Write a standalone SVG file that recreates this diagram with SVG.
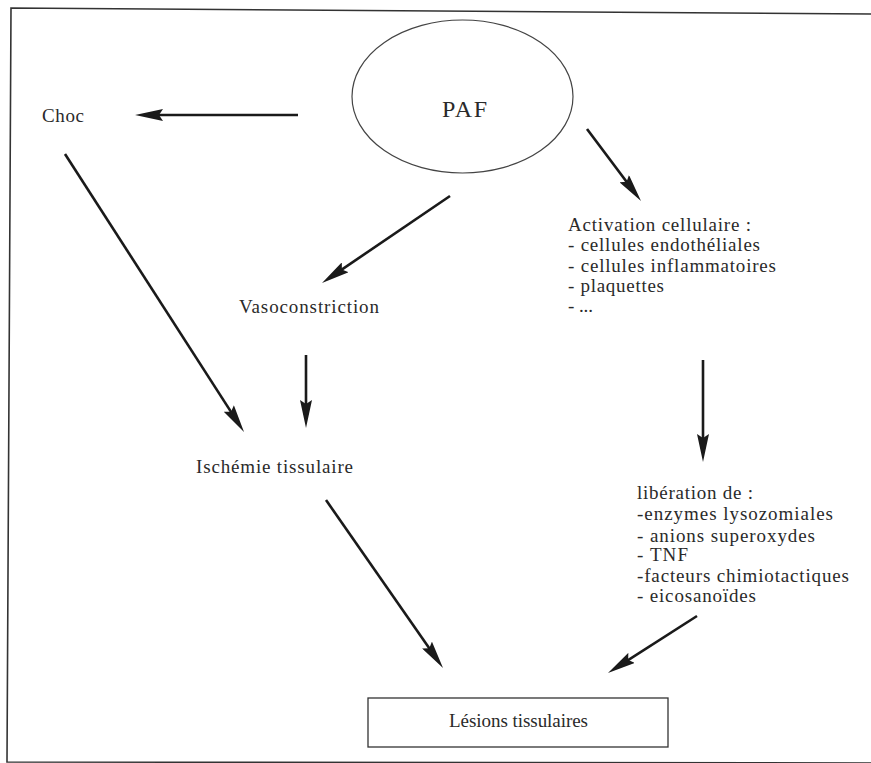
<svg xmlns="http://www.w3.org/2000/svg" width="871" height="763" viewBox="0 0 871 763">
<style>
.t{font-family:"Liberation Serif","Times New Roman",serif;font-size:19px;fill:#2a2a2a;}
.big{font-size:24px;}
.c line{stroke:#1a1a1a;stroke-width:2.6;stroke-linecap:butt;marker-end:url(#ah);}
</style>
<defs>
<marker id="ah" viewBox="0 0 28 12" markerWidth="28" markerHeight="12" refX="18" refY="6" orient="auto" markerUnits="userSpaceOnUse">
<path d="M0,0 L28,6 L0,12 L4,6 Z" fill="#1a1a1a"/>
</marker>
</defs>
<rect width="871" height="763" fill="#ffffff"/>
<path d="M871,14 L11,8 L7,762 L871,763" fill="none" stroke="#333" stroke-width="1.6"/>

<g id="paf">
<ellipse cx="462.5" cy="96.5" rx="110.5" ry="76.5" fill="none" stroke="#444" stroke-width="1.2"/>
<text class="t big" x="442" y="117" textLength="45" lengthAdjust="spacing">PAF</text>
</g>
<g id="choc"><text class="t" x="42" y="122" textLength="42" lengthAdjust="spacing">Choc</text></g>
<g id="vaso"><text class="t" x="239" y="313" textLength="140" lengthAdjust="spacing">Vasoconstriction</text></g>
<g id="activation">
<text class="t" x="568" y="231" textLength="183" lengthAdjust="spacing">Activation cellulaire :</text>
<text class="t" x="568" y="251" textLength="192" lengthAdjust="spacing">- cellules endothéliales</text>
<text class="t" x="568" y="272" textLength="208" lengthAdjust="spacing">- cellules inflammatoires</text>
<text class="t" x="568" y="292" textLength="96" lengthAdjust="spacing">- plaquettes</text>
<text class="t" x="568" y="312" textLength="25" lengthAdjust="spacing">- ...</text>
</g>
<g id="ischemie"><text class="t" x="196" y="473" textLength="157" lengthAdjust="spacing">Ischémie tissulaire</text></g>
<g id="liberation">
<text class="t" x="637" y="499" textLength="116" lengthAdjust="spacing">libération de :</text>
<text class="t" x="637" y="520" textLength="196" lengthAdjust="spacing">-enzymes lysozomiales</text>
<text class="t" x="637" y="542" textLength="178" lengthAdjust="spacing">- anions superoxydes</text>
<text class="t" x="637" y="561" textLength="51" lengthAdjust="spacing">- TNF</text>
<text class="t" x="637" y="582" textLength="212" lengthAdjust="spacing">-facteurs chimiotactiques</text>
<text class="t" x="637" y="602" textLength="119" lengthAdjust="spacing">- eicosanoïdes</text>
</g>
<g id="lesions">
<rect x="368" y="698" width="300" height="49" fill="none" stroke="#333" stroke-width="1.3"/>
<text class="t" x="449" y="727" textLength="139" lengthAdjust="spacing">Lésions tissulaires</text>
</g>

<g id="connectors" class="c">
<line x1="298" y1="115" x2="145" y2="115"/>
<line x1="450" y1="196" x2="330.3" y2="277.4"/>
<line x1="587" y1="129" x2="635" y2="193"/>
<line x1="65" y1="154" x2="238.6" y2="423.6"/>
<line x1="306" y1="355" x2="306" y2="418"/>
<line x1="703" y1="360" x2="703" y2="452"/>
<line x1="326" y1="500" x2="437.3" y2="659.8"/>
<line x1="697" y1="616" x2="616.4" y2="667.6"/>
</g>
</svg>
